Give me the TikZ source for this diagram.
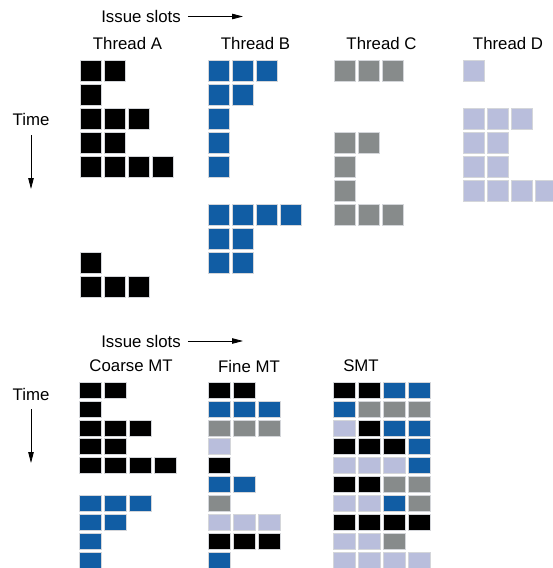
\documentclass[tikz,border=0pt]{standalone}
\usepackage{fontspec}
\setmainfont{Liberation Sans}
\usetikzlibrary{arrows.meta, positioning}
\definecolor{thA}{HTML}{000000}
\definecolor{thB}{HTML}{115DA4}
\definecolor{thC}{HTML}{878B8B}
\definecolor{thD}{HTML}{B9BEDC}
\definecolor{slotedge}{HTML}{D4D6DA}

\tikzset{
  heading/.style={font=\fontsize{16.8}{20}\selectfont, inner sep=0pt},
  slotarrow/.style={-{Triangle[length=11pt, width=5.5pt]}, line width=0.8pt},
  slot/.style={draw=slotedge, line width=0.6pt},
}

% one thread alone: row/count pairs, one colour
\newcommand{\threadslots}[3]{%
  \foreach \r/\n in {#3}
    \foreach \c in {1,...,\n}
      \path[slot, fill=#2] ({#1+(\c-1)*24}, {60+\r*24}) rectangle ++(21,21);
}
% mixed threads: one list of colours per row
\newcommand{\mixslots}[3]{%
  \foreach \row [count=\r from #2] in {#3}
    \foreach \col [count=\c from 0] in \row
      \path[slot, fill=\col] ({#1+\c*25}, {382+\r*18.9}) rectangle ++(22,16);
}

\begin{document}
\begin{tikzpicture}[x=1pt, y=-1pt]
\useasboundingbox (0,0) rectangle (552,568);

% ---- single threads
\node[heading] (slotsT) at (141,16.5) {Issue slots};
\coordinate (slotsTend) at (243,16.5);
\draw[slotarrow] ([xshift=7pt]slotsT.east) -- (slotsTend);

\node[heading] (timeT) at (31,119) {Time};
\coordinate (timeTend) at (31,189);
\draw[slotarrow] ([yshift=-10pt]timeT.south) -- (timeTend);

\node[heading] (headA) at (127.5,43.5) {Thread A};
\node[heading] (headB) at (255.5,43.5) {Thread B};
\node[heading] (headC) at (381.5,43.5) {Thread C};
\node[heading] (headD) at (508,43.5) {Thread D};

\threadslots{80.5}{thA}{0/2, 1/1, 2/3, 3/2, 4/4, 8/1, 9/3}
\threadslots{208}{thB}{0/3, 1/2, 2/1, 3/1, 4/1, 6/4, 7/2, 8/2}
\threadslots{334}{thC}{0/3, 3/2, 4/1, 5/1, 6/3}
\threadslots{463}{thD}{0/1, 2/3, 3/2, 4/2, 5/4}

% ---- multithreaded
\node[heading] (slotsM) at (141,341) {Issue slots};
\coordinate (slotsMend) at (243,341);
\draw[slotarrow] ([xshift=7pt]slotsM.east) -- (slotsMend);

\node[heading] (timeM) at (31,394) {Time};
\coordinate (timeMend) at (31,463);
\draw[slotarrow] ([yshift=-9pt]timeM.south) -- (timeMend);

\node[heading] (headCoarse) at (131,366) {Coarse MT};
\node[heading] (headFine) at (249,366) {Fine MT};
\node[heading] (headSMT) at (361,366) {SMT};

\mixslots{79}{0}{{thA,thA}, {thA}, {thA,thA,thA}, {thA,thA}, {thA,thA,thA,thA}}
\mixslots{79}{6}{{thB,thB,thB}, {thB,thB}, {thB}, {thB}}

\mixslots{208}{0}{{thA,thA}, {thB,thB,thB}, {thC,thC,thC}, {thD}, {thA},
  {thB,thB}, {thC}, {thD,thD,thD}, {thA,thA,thA}, {thB}}

\mixslots{333}{0}{{thA,thA,thB,thB}, {thB,thC,thC,thC}, {thD,thA,thB,thB},
  {thA,thA,thA,thB}, {thD,thD,thD,thB}, {thA,thA,thC,thC},
  {thD,thD,thB,thC}, {thA,thA,thA,thA}, {thD,thD,thC}, {thD,thD,thD,thD}}
\end{tikzpicture}
\end{document}
